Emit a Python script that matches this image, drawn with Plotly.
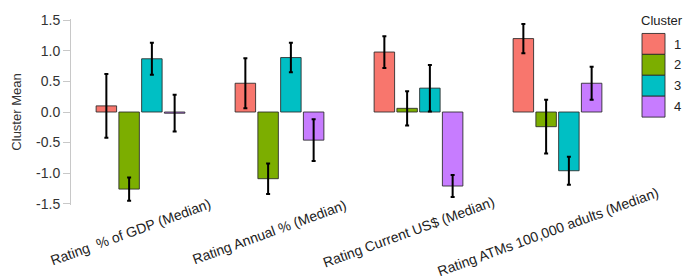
import plotly.graph_objects as go

categories = ["Rating  % of GDP (Median)", "Rating Annual % (Median)",
              "Rating Current US$ (Median)", "Rating ATMs 100,000 adults (Median)"]
clusters = ["1", "2", "3", "4"]
means = {
    "1": [0.10, 0.47, 0.98, 1.20],
    "2": [-1.26, -1.09, 0.06, -0.24],
    "3": [0.87, 0.89, 0.39, -0.96],
    "4": [-0.02, -0.46, -1.21, 0.47],
}
errors = {
    "1": [0.52, 0.41, 0.26, 0.24],
    "2": [0.19, 0.25, 0.28, 0.44],
    "3": [0.26, 0.24, 0.38, 0.23],
    "4": [0.30, 0.34, 0.18, 0.27],
}
colors = ["#F8766D", "#7CAE00", "#00BFC4", "#C77CFF"]
y_ticks = [-1.5, -1.0, -0.5, 0.0, 0.5, 1.0, 1.5]

W, H = 687, 280
L, R, T, B = 71, 627, 12, 205

def px(xp):
    return (xp - L) / (R - L)

def py(yp):
    return (B - yp) / (B - T)

font = "Liberation Sans, Arial, sans-serif"
fig = go.Figure()
for c, col in zip(clusters, colors):
    fig.add_trace(go.Bar(
        x=categories, y=means[c], name=c,
        marker=dict(color=col, line=dict(color="rgba(40,40,40,0.85)", width=1)),
        error_y=dict(type="data", array=errors[c], color="black", thickness=2, width=2),
        showlegend=False,
    ))

annotations = []
for cat in categories:
    annotations.append(dict(x=cat, xref="x", y=0, yref="paper", text=cat, showarrow=False,
                            textangle=-20, xanchor="center", yanchor="middle",
                            xshift=-10, yshift=-27,
                            font=dict(family=font, size=14, color="#222")))

shapes = []
annotations.append(dict(x=px(639), y=py(14), xref="paper", yref="paper", text="Cluster",
                        showarrow=False, xanchor="left", yanchor="middle",
                        font=dict(family=font, size=13, color="#222")))
for i, (c, col) in enumerate(zip(clusters, colors)):
    top = 27 + i * 21.7
    shapes.append(dict(type="rect", xref="paper", yref="paper",
                       x0=px(642), x1=px(665), y0=py(top), y1=py(top + 21.7),
                       fillcolor=col, line=dict(color="rgba(40,40,40,0.85)", width=1)))
    annotations.append(dict(x=px(672), y=py(top + 11), xref="paper", yref="paper", text=c,
                            showarrow=False, xanchor="left", yanchor="middle",
                            font=dict(family=font, size=13, color="#222")))

fig.update_layout(
    width=W, height=H,
    margin=dict(l=L, r=W - R, t=T, b=H - B, pad=0),
    paper_bgcolor="white", plot_bgcolor="white",
    barmode="group", bargap=0.345, bargroupgap=0.1,
    font=dict(family=font, size=13, color="#333"),
    xaxis=dict(showticklabels=False, showgrid=False, zeroline=False, showline=False,
               ticks="", range=[-0.5, 3.5]),
    yaxis=dict(range=[-1.52, 1.52], tickvals=y_ticks,
               ticktext=[f"{v:.1f}" for v in y_ticks],
               showgrid=False, zeroline=False, showline=True, linecolor="#c8c8c8",
               linewidth=1, ticks="outside", ticklen=7, tickcolor="#c8c8c8",
               tickfont=dict(family=font, size=14, color="#333"),
               title=dict(text="Cluster Mean", standoff=11,
                          font=dict(family=font, size=13, color="#333"))),
    annotations=annotations, shapes=shapes,
)
fig.write_html("out.html", config={"displayModeBar": False},
               post_script="document.body.style.margin='0';")
